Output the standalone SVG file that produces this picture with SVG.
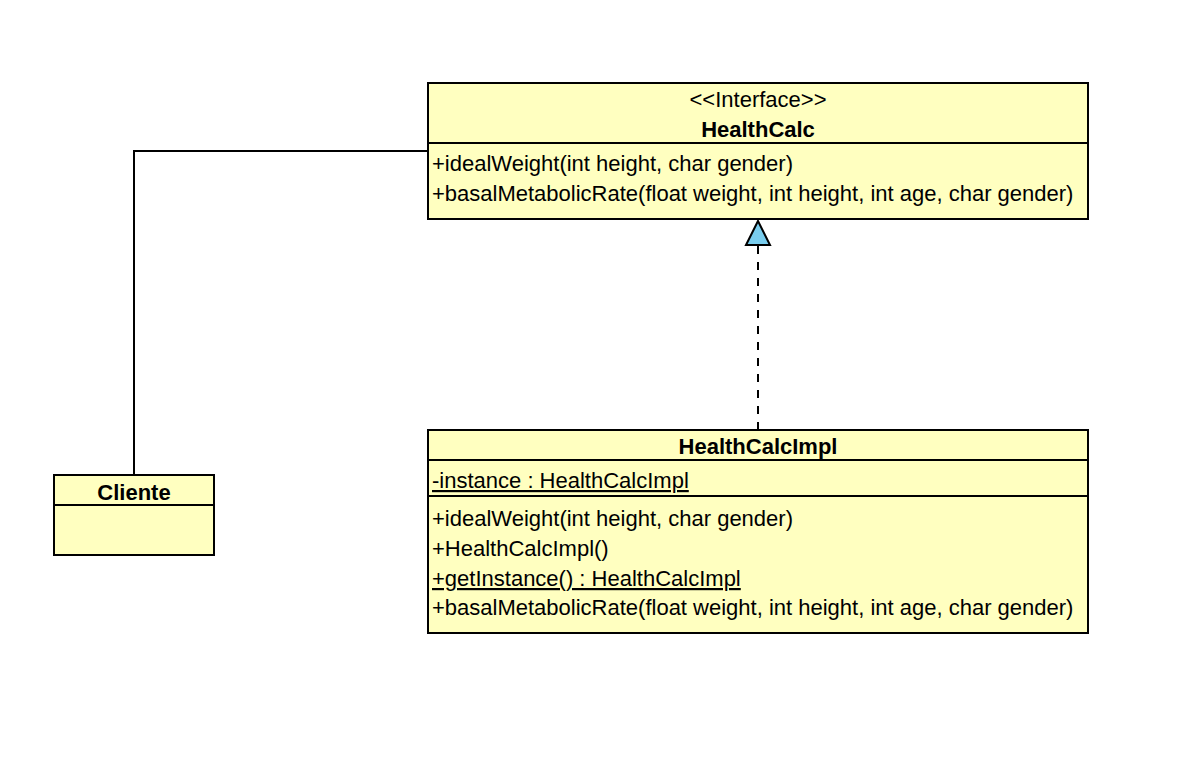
<svg xmlns="http://www.w3.org/2000/svg" width="1182" height="758" viewBox="0 0 1182 758">
<style>
.box{fill:#ffffc0;stroke:#000;stroke-width:2}
.div{stroke:#000;stroke-width:2}
.t{font-family:"Liberation Sans",Arial,sans-serif;font-size:22px;fill:#000}
.b{font-weight:bold;text-anchor:middle}
.c{text-anchor:middle}
.u{text-decoration:underline}
.line{fill:none;stroke:#000;stroke-width:2}
</style>
<rect width="1182" height="758" fill="#fff"/>
<g id="connectors">
<polyline class="line" points="134,475 134,151 428,151"/>
<line x1="758" y1="246" x2="758" y2="430" stroke="#000" stroke-width="2" stroke-dasharray="8,8"/>
<polygon points="758,221 746,245 770,245" fill="#79cdee" stroke="#000" stroke-width="2"/>
</g>
<g id="HealthCalc">
<rect class="box" x="428" y="83" width="660" height="136"/>
<line class="div" x1="428" y1="143" x2="1088" y2="143"/>
<text class="t c" x="758" y="107">&lt;&lt;Interface&gt;&gt;</text>
<text class="t b" x="758" y="137">HealthCalc</text>
<text class="t" x="432" y="171">+idealWeight(int height, char gender)</text>
<text class="t" x="432" y="201">+basalMetabolicRate(float weight, int height, int age, char gender)</text>
</g>
<g id="HealthCalcImpl">
<rect class="box" x="428" y="430" width="660" height="203"/>
<line class="div" x1="428" y1="460" x2="1088" y2="460"/>
<line class="div" x1="428" y1="496" x2="1088" y2="496"/>
<text class="t b" x="758" y="454">HealthCalcImpl</text>
<text class="t u" x="432" y="488">-instance : HealthCalcImpl</text>
<text class="t" x="432" y="526">+idealWeight(int height, char gender)</text>
<text class="t" x="432" y="556">+HealthCalcImpl()</text>
<text class="t u" x="432" y="586">+getInstance() : HealthCalcImpl</text>
<text class="t" x="432" y="615">+basalMetabolicRate(float weight, int height, int age, char gender)</text>
</g>
<g id="Cliente">
<rect class="box" x="54" y="475" width="160" height="80"/>
<line class="div" x1="54" y1="505" x2="214" y2="505"/>
<text class="t b" x="134" y="500">Cliente</text>
</g>
</svg>
